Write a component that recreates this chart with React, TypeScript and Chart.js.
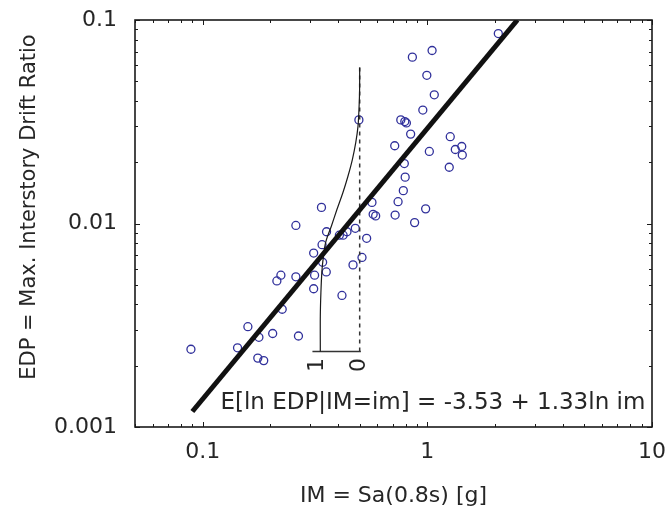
import React, { useEffect, useRef } from 'react';
import { Chart, registerables } from 'chart.js';

Chart.register(...registerables);

// ---- data ----
const IM_VALUES = [
  2.07, 1.05, 0.858, 0.995, 1.074, 0.955, 0.496, 0.762, 0.794, 0.807,
  0.843, 1.265, 0.716, 1.423, 1.332, 1.021, 1.431, 0.79, 1.252, 0.797,
  0.782, 0.567, 0.741, 0.983, 0.338, 0.574, 0.589, 0.719, 0.878, 0.26,
  0.356, 0.478, 0.406, 0.422, 0.439, 0.537, 0.34, 0.312, 0.342, 0.512,
  0.467, 0.355, 0.315, 0.26, 0.223, 0.214, 0.312, 0.417, 0.226, 0.159,
  0.178, 0.205, 0.267, 0.0887, 0.143, 0.176, 0.187,
];
const EDP_VALUES = [
  0.0858, 0.0708, 0.0657, 0.0535, 0.0429, 0.0361, 0.0323, 0.0323, 0.0317, 0.0312,
  0.0275, 0.0267, 0.0241, 0.0239, 0.0231, 0.0226, 0.0217, 0.0197, 0.0189, 0.0169,
  0.0145, 0.0127, 0.0128, 0.0118, 0.012, 0.0111, 0.0109, 0.011, 0.0101, 0.00978,
  0.00911, 0.00947, 0.00876, 0.00876, 0.00911, 0.00846, 0.00787, 0.00716, 0.00645, 0.00681,
  0.00626, 0.00578, 0.00557, 0.00547, 0.00557, 0.00522, 0.00478, 0.00443, 0.00379, 0.00311,
  0.00276, 0.00288, 0.0028, 0.00241, 0.00245, 0.00218, 0.00212,
];

const X_TICKS = [0.1, 1, 10];
const Y_TICKS = [0.001, 0.01, 0.1];
const X_MIN = 0.05;
const X_MAX = 10;
const Y_MIN = 0.001;
const Y_MAX = 0.1;

// regression E[ln EDP | IM = im] = a + b ln im
const REG_INTERCEPT = -3.53;
const REG_SLOPE = 1.33;
const REG_IM_RANGE = [0.09, 2.517];

// exceedance-probability curve drawn at IM = 0.5 (probability 0 at IM_ZERO, 1 at IM_ONE)
const CURVE_IM_ZERO = 0.5;
const CURVE_IM_ONE = 0.334;
const CURVE_EDP = [0.00235, 0.0035, 0.00457, 0.0058, 0.00666, 0.00806, 0.0097, 0.01171, 0.0142, 0.01707, 0.02062, 0.02498, 0.03, 0.0363, 0.044, 0.0584];
const CURVE_PROB = [1.0, 1.0, 0.985, 0.96, 0.93, 0.865, 0.72, 0.578, 0.425, 0.298, 0.186, 0.1, 0.043, 0.018, 0.003, 0.0];
const CURVE_EDP_RANGE = [0.00235, 0.0584];
const BRACKET_PROB_RANGE = [1.2, -0.03];

const X_TITLE = 'IM = Sa(0.8s) [g]';
const Y_TITLE = 'EDP = Max. Interstory Drift Ratio';
const ANNOTATION = 'E[ln EDP|IM=im] = -3.53 + 1.33ln im';
const ANNOTATION_AT = { im: 0.12, edp: 0.00122 };
const INSET_LABELS = ['1', '0'];

const FONT = '"DejaVu Sans", "Liberation Sans", sans-serif';
const TEXT_COLOR = '#262626';

const probToIm = (p: number) =>
  Math.pow(10, Math.log10(CURVE_IM_ZERO) - p * (Math.log10(CURVE_IM_ZERO) - Math.log10(CURVE_IM_ONE)));

function logTicks(min: number, max: number) {
  const out: { v: number; major: boolean }[] = [];
  for (let d = Math.floor(Math.log10(min)); d <= Math.ceil(Math.log10(max)); d++) {
    for (let m = 1; m <= 9; m++) {
      const v = m * Math.pow(10, d);
      if (v >= min * 0.9999 && v <= max * 1.0001) out.push({ v, major: m === 1 });
    }
  }
  return out;
}

const zeroPadding = (s: any) => {
  s.paddingLeft = 0;
  s.paddingRight = 0;
  s.paddingTop = 0;
  s.paddingBottom = 0;
};

const framePlugin = {
  id: 'matlabFrame',
  afterDatasetsDraw(chart: any) {
    const { ctx, chartArea: a, scales } = chart;
    const xs = scales.x;
    const ys = scales.y;
    ctx.save();
    // box
    ctx.strokeStyle = '#1a1a1a';
    ctx.lineWidth = 1.6;
    ctx.strokeRect(a.left, a.top, a.right - a.left, a.bottom - a.top);
    // inward ticks
    ctx.lineWidth = 1;
    ctx.beginPath();
    for (const t of logTicks(X_MIN, X_MAX)) {
      const px = Math.round(xs.getPixelForValue(t.v)) + 0.5;
      const len = t.major ? 5 : 3;
      ctx.moveTo(px, a.bottom);
      ctx.lineTo(px, a.bottom - len);
      ctx.moveTo(px, a.top);
      ctx.lineTo(px, a.top + len);
    }
    for (const t of logTicks(Y_MIN, Y_MAX)) {
      const py = Math.round(ys.getPixelForValue(t.v)) + 0.5;
      const len = t.major ? 5 : 3;
      ctx.moveTo(a.left, py);
      ctx.lineTo(a.left + len, py);
      ctx.moveTo(a.right, py);
      ctx.lineTo(a.right - len, py);
    }
    ctx.stroke();

    ctx.fillStyle = TEXT_COLOR;
    // y title
    ctx.save();
    ctx.font = `21px ${FONT}`;
    ctx.translate(29.5, 207);
    ctx.rotate(-Math.PI / 2);
    ctx.textAlign = 'center';
    ctx.textBaseline = 'middle';
    ctx.fillText(Y_TITLE, 0, 0);
    ctx.restore();

    // annotation
    ctx.font = `23px ${FONT}`;
    ctx.textAlign = 'left';
    ctx.textBaseline = 'alphabetic';
    ctx.fillText(ANNOTATION, xs.getPixelForValue(ANNOTATION_AT.im), ys.getPixelForValue(ANNOTATION_AT.edp));

    // inset labels
    const by = ys.getPixelForValue(CURVE_EDP_RANGE[0]) + 13.5;
    const lx = [xs.getPixelForValue(CURVE_IM_ONE) - 3, xs.getPixelForValue(CURVE_IM_ZERO)];
    ctx.font = `22px ${FONT}`;
    INSET_LABELS.forEach((s, i) => {
      ctx.save();
      ctx.translate(lx[i], by);
      ctx.rotate(-Math.PI / 2);
      ctx.textAlign = 'center';
      ctx.textBaseline = 'middle';
      ctx.fillText(s, 0, 0);
      ctx.restore();
    });
    ctx.restore();
  },
};

export default function App() {
  const ref = useRef<HTMLCanvasElement>(null);

  useEffect(() => {
    if (!ref.current) return;
    const scatter = IM_VALUES.map((x, i) => ({ x, y: EDP_VALUES[i] }));
    const regression = REG_IM_RANGE.map((x) => ({ x, y: Math.exp(REG_INTERCEPT + REG_SLOPE * Math.log(x)) }));
    const curve = CURVE_EDP.map((y, i) => ({ x: probToIm(CURVE_PROB[i]), y }));
    const dashed = CURVE_EDP_RANGE.map((y) => ({ x: CURVE_IM_ZERO, y }));
    const bracket = BRACKET_PROB_RANGE.map((p) => ({ x: probToIm(p), y: CURVE_EDP_RANGE[0] }));

    const chart = new Chart(ref.current, {
      type: 'scatter',
      data: {
        datasets: [
          {
            label: 'regression',
            data: regression,
            showLine: true,
            borderColor: '#111111',
            borderWidth: 5,
            pointRadius: 0,
          },
          {
            label: 'exceedance',
            data: curve,
            showLine: true,
            tension: 0.35,
            borderColor: '#1a1a1a',
            borderWidth: 1.2,
            pointRadius: 0,
          },
          {
            label: 'median',
            data: dashed,
            showLine: true,
            borderColor: '#333333',
            borderWidth: 1.5,
            borderDash: [4, 4],
            pointRadius: 0,
          },
          {
            label: 'bracket',
            data: bracket,
            showLine: true,
            borderColor: '#333333',
            borderWidth: 1.5,
            pointRadius: 0,
          },
          {
            label: 'records',
            data: scatter,
            showLine: false,
            pointStyle: 'circle',
            pointRadius: 4,
            pointBorderWidth: 1.3,
            borderColor: 'rgb(48, 48, 155)',
            backgroundColor: 'rgba(0,0,0,0)',
          },
        ],
      },
      options: {
        animation: false,
        responsive: false,
        devicePixelRatio: 1,
        layout: { padding: { top: 20, right: 15, left: 0, bottom: 0 } },
        plugins: { legend: { display: false }, tooltip: { enabled: false } },
        scales: {
          x: {
            type: 'logarithmic',
            position: 'bottom',
            min: X_MIN,
            max: X_MAX,
            grid: { display: false, drawTicks: false },
            border: { display: false },
            afterBuildTicks: (s: any) => {
              s.ticks = X_TICKS.map((v) => ({ value: v }));
            },
            afterFit: (s: any) => {
              s.height = 82;
              zeroPadding(s);
            },
            ticks: {
              autoSkip: false,
              maxRotation: 0,
              padding: 12,
              color: TEXT_COLOR,
              font: { family: FONT, size: 22 },
              callback: (v: any) => String(v),
            },
            title: {
              display: true,
              text: X_TITLE,
              color: TEXT_COLOR,
              font: { family: FONT, size: 22 },
              padding: { top: 0, bottom: 0 },
            },
          },
          y: {
            type: 'logarithmic',
            position: 'left',
            min: Y_MIN,
            max: Y_MAX,
            grid: { display: false, drawTicks: false },
            border: { display: false },
            afterBuildTicks: (s: any) => {
              s.ticks = Y_TICKS.map((v) => ({ value: v }));
            },
            afterFit: (s: any) => {
              s.width = 135;
              zeroPadding(s);
            },
            ticks: {
              autoSkip: false,
              padding: 18,
              color: TEXT_COLOR,
              font: { family: FONT, size: 22 },
              callback: (v: any) => String(v),
            },
          },
        },
      },
      plugins: [framePlugin],
    });
    return () => chart.destroy();
  }, []);

  return (
    <div style={{ position: 'fixed', left: 0, top: 0, width: 667, height: 509, background: '#fff' }}>
      <canvas ref={ref} width={667} height={509} style={{ display: 'block' }} />
    </div>
  );
}
